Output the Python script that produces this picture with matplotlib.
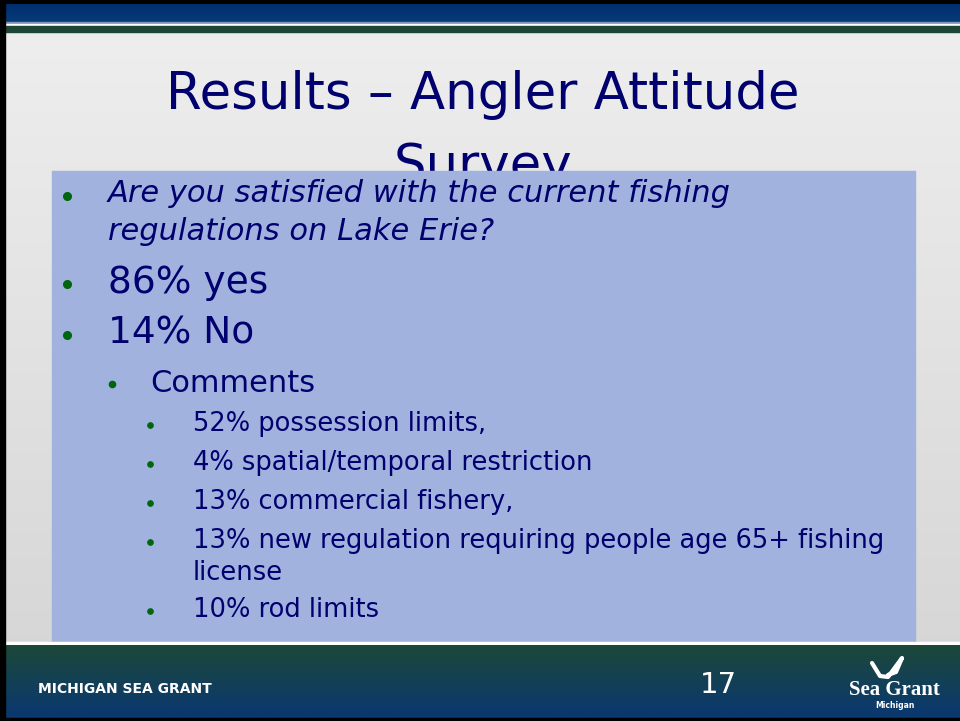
import numpy as np
import matplotlib

matplotlib.use("Agg")
import matplotlib.pyplot as plt
from matplotlib.patches import Rectangle

# slide content
title_lines = ["Results \u2013 Angler Attitude", "Survey"]
question_lines = ["Are you satisfied with the current fishing", "regulations on Lake Erie?"]
answers = ["86% yes", "14% No"]
comment_header = "Comments"
comments = [
    ["52% possession limits,"],
    ["4% spatial/temporal restriction"],
    ["13% commercial fishery,"],
    ["13% new regulation requiring people age 65+ fishing", "license"],
    ["10% rod limits"],
]
footer_left = "MICHIGAN SEA GRANT"
page_number = "17"

NAVY = "#00006e"
GREEN = "#00660d"
BOX = "#a1b2de"

W, H = 960, 721
fig = plt.figure(figsize=(W / 100, H / 100), dpi=100)
ax = fig.add_axes([0, 0, 1, 1])
ax.set_xlim(0, W)
ax.set_ylim(H, 0)
ax.set_axis_off()


def vgrad(x0, x1, y0, y1, c_top, c_bot, z=0):
    top = np.array(matplotlib.colors.to_rgb(c_top))
    bot = np.array(matplotlib.colors.to_rgb(c_bot))
    t = np.linspace(0, 1, 64)[:, None]
    img = (top * (1 - t) + bot * t)[:, None, :]
    ax.imshow(img, extent=(x0, x1, y1, y0), aspect="auto", zorder=z, interpolation="bilinear")


# background
vgrad(0, W, 0, H, "#efefef", "#d4d4d4", z=0)

# header bands
ax.add_patch(Rectangle((0, 0), W, 4, color="black", zorder=2))
vgrad(0, W, 4, 22, "#002f6e", "#083a7a", z=2)
ax.add_patch(Rectangle((0, 22), W, 2, color="#7d93b8", zorder=3))
ax.add_patch(Rectangle((0, 24), W, 2, color="white", zorder=3))
ax.add_patch(Rectangle((0, 26), W, 6, color="#1c4535", zorder=3))
ax.add_patch(Rectangle((0, 0), 5, H, color="black", zorder=6))

# title (second line is partly hidden by the content box, as on the slide)
ax.text(483, 95, title_lines[0], ha="center", va="center", fontsize=37,
        color=NAVY, family="DejaVu Sans", zorder=4)
ax.text(483, 167, title_lines[1], ha="center", va="center", fontsize=37,
        color=NAVY, family="DejaVu Sans", zorder=4)

# content box
ax.add_patch(Rectangle((52, 171), 863, 471, color=BOX, zorder=5))


def bullet(x, y, size):
    ax.plot([x], [y], "o", color=GREEN, markersize=size, zorder=7)


# question (italic)
bullet(67, 196, 5.5)
for i, line in enumerate(question_lines):
    ax.text(108, 194 + 37 * i, line, ha="left", va="center", fontsize=22,
            style="italic", color=NAVY, family="DejaVu Sans", zorder=7)

# answers
for i, ans in enumerate(answers):
    y = 283 + 51 * i
    bullet(67, y + 1, 5.5)
    ax.text(108, y, ans, ha="left", va="center", fontsize=27,
            color=NAVY, family="DejaVu Sans", zorder=7)

# comments
bullet(112, 384, 4.5)
ax.text(150, 383, comment_header, ha="left", va="center", fontsize=22,
        color=NAVY, family="DejaVu Sans", zorder=7)

y = 424
for item in comments:
    bullet(150, y + 1, 3.8)
    for j, line in enumerate(item):
        ax.text(193, y + 32 * j, line, ha="left", va="center", fontsize=18.5,
                color=NAVY, family="DejaVu Sans", zorder=7)
    y += 39 + 30 * (len(item) - 1)

# footer
ax.add_patch(Rectangle((0, 642), W, 3, color="white", zorder=5))
vgrad(0, W, 645, H - 3, "#1c4838", "#0a3872", z=5)
ax.add_patch(Rectangle((0, H - 3), W, 3, color="black", zorder=6))
ax.text(38, 689, footer_left, ha="left", va="center", fontsize=10,
        weight="bold", color="white", family="DejaVu Sans", zorder=7)
ax.text(718, 685, page_number, ha="center", va="center", fontsize=21,
        color="white", family="DejaVu Sans", zorder=7)

# Sea Grant logo
ax.plot([872, 880, 888, 902, 896, 888], [663, 676, 677, 658, 672, 675],
        color="white", lw=3, solid_capstyle="round", zorder=7)
ax.text(894, 690, "Sea Grant", ha="center", va="center", fontsize=15,
        weight="bold", color="white", family="Liberation Serif", zorder=7)
ax.text(895, 705, "Michigan", ha="center", va="center", fontsize=5.5,
        weight="bold", color="white", family="DejaVu Sans", zorder=7)

fig.savefig("out.png", dpi=100)
